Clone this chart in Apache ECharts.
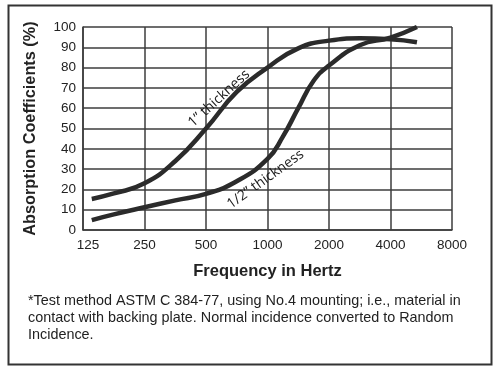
<!DOCTYPE html>
<html>
<head>
<meta charset="utf-8">
<script src="https://cdn.jsdelivr.net/npm/echarts@6/dist/echarts.min.js"></script>
<style>
html,body{margin:0;padding:0;background:#fff;}
#c{width:495px;height:370px;}
</style>
</head>
<body>
<div id="c"></div>
<script>
// Frequency tick labels (octave steps)
const freqTicks = [125, 250, 500, 1000, 2000, 4000, 8000];
// 1" thickness: frequency (Hz) and absorption (%)
const thick1Freq = [138, 177, 250, 354, 500, 707, 1000, 1414, 2000, 2828, 4000, 5390];
const thick1Vals = [15.3, 18, 23, 34, 50, 68, 80, 89.5, 93.3, 94.4, 94, 92.5];
// 1/2" thickness
const halfFreq = [138, 177, 250, 354, 500, 707, 1000, 1189, 1414, 1682, 2000, 2828, 4000, 5390];
const halfVals = [4.9, 7.7, 11.2, 14.6, 17.8, 24, 35, 46, 60, 73.5, 81, 91, 94.8, 100];

const base = freqTicks[0];
const oct = f => Math.log2(f / base);
const toData = (fs, vs) => fs.map((f, i) => [oct(f), vs[i]]);

const chart = echarts.init(document.getElementById('c'), null, {renderer: 'canvas'});
const gridColor = '#3c3c3c';
const font = '"Liberation Sans", Arial, sans-serif';

chart.setOption({
  animation: false,
  backgroundColor: '#fff',
  grid: {left: 83, right: 43, top: 27, bottom: 140, containLabel: false},
  xAxis: {
    type: 'value', min: 0, max: freqTicks.length - 1, interval: 1,
    axisLine: {show: true, lineStyle: {color: gridColor, width: 1.5}},
    axisTick: {show: false},
    splitLine: {show: true, lineStyle: {color: gridColor, width: 1.5}},
    axisLabel: {color: '#222', fontSize: 13.5, fontFamily: font, margin: 8,
      formatter: v => {
        const i = Math.round(v);
        return i === 0 ? '{first|' + freqTicks[i] + '}' : String(freqTicks[i]);
      },
      rich: {first: {color: '#222', fontSize: 13.5, fontFamily: font, padding: [0, 0, 0, 10]}}},
    name: 'Frequency in Hertz', nameLocation: 'middle', nameGap: 33,
    nameTextStyle: {color: '#222', fontSize: 16.5, fontWeight: 'bold', fontFamily: font}
  },
  yAxis: {
    type: 'value', min: 0, max: 100, interval: 10,
    axisLine: {show: true, lineStyle: {color: gridColor, width: 1.5}},
    axisTick: {show: false},
    splitLine: {show: true, lineStyle: {color: gridColor, width: 1.5}},
    axisLabel: {color: '#222', fontSize: 13.5, fontFamily: font, margin: 7},
    name: 'Absorption Coefficients (%)', nameLocation: 'middle', nameGap: 44,
    nameTextStyle: {color: '#222', fontSize: 16.3, fontWeight: 'bold', fontFamily: font}
  },
  series: [
    {name: '1" thickness', type: 'line', data: toData(thick1Freq, thick1Vals),
     smooth: 0.5, showSymbol: false,
     lineStyle: {color: '#2b2b2b', width: 4.5, cap: 'butt'}},
    {name: '1/2" thickness', type: 'line', data: toData(halfFreq, halfVals),
     smooth: 0.5, showSymbol: false,
     lineStyle: {color: '#2b2b2b', width: 4.5, cap: 'butt'}}
  ]
});

const p1 = chart.convertToPixel({gridIndex: 0}, [oct(579), 64.8]);
const p2 = chart.convertToPixel({gridIndex: 0}, [oct(1000), 25]);
const noteFont = '14.4px "Liberation Sans", Arial, sans-serif';
chart.setOption({
  graphic: [
    {type: 'rect', left: 6, top: 3, shape: {x: 0, y: 0, width: 483, height: 359},
     style: {fill: 'none', stroke: '#333', lineWidth: 2}, silent: true},
    {type: 'text', x: p1[0], y: p1[1], rotation: 42.4 * Math.PI / 180,
     style: {text: '1\u201D thickness', font: '14px "Open Sans", sans-serif', fill: '#1a1a1a',
       textAlign: 'center', textVerticalAlign: 'middle'}},
    {type: 'text', x: p2[0] - 2, y: p2[1] + 0, rotation: 35.7 * Math.PI / 180,
     style: {text: '1/2\u201D thickness', font: '14px "Open Sans", sans-serif', fill: '#1a1a1a',
       textAlign: 'center', textVerticalAlign: 'middle'}},
    {type: 'text', left: 28, top: 293,
     style: {text: '*Test method ASTM C 384-77, using No.4 mounting; i.e., material in\ncontact with backing plate. Normal incidence converted to Random\nIncidence.',
       font: noteFont, fill: '#222', lineHeight: 17}}
  ]
});
</script>
</body>
</html>
